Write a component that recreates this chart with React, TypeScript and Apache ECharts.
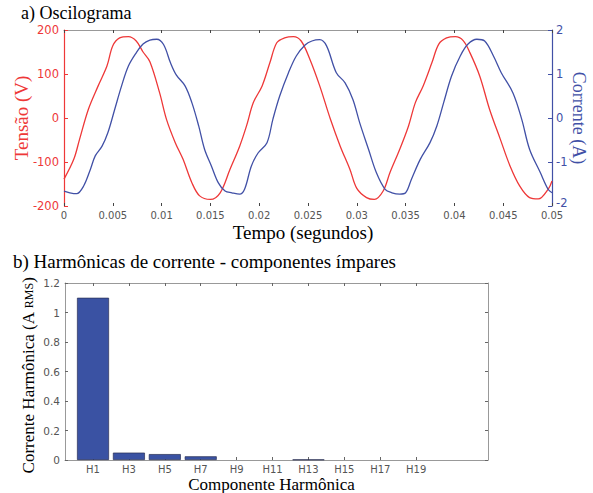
import React, { useEffect, useRef } from "react";
import * as echarts from "echarts";

// ---- a) Oscilograma ----
const timeV = [0, 0.001, 0.0016, 0.0025, 0.0035, 0.0044, 0.005, 0.0057, 0.0066, 0.0074, 0.0081, 0.0088, 0.0098, 0.0105, 0.0114, 0.0122, 0.0131, 0.0139, 0.015, 0.016, 0.017, 0.018, 0.0187, 0.0194, 0.0203, 0.0211, 0.0218, 0.0226, 0.0235, 0.0243, 0.0252, 0.0262, 0.0273, 0.0283, 0.0293, 0.03, 0.031, 0.0318, 0.0327, 0.0334, 0.0344, 0.0353, 0.036, 0.0368, 0.0377, 0.0384, 0.0392, 0.0401, 0.0409, 0.0416, 0.0426, 0.0436, 0.0447, 0.0457, 0.0467, 0.0477, 0.0486, 0.0496, 0.05];
const voltage = [-139, -94, -48, 20, 73, 118, 164, 182, 185, 175, 150, 128, 57, -3, -56, -94, -147, -177, -185, -170, -117, -64, -18, 35, 73, 126, 171, 182, 185, 175, 133, 73, -3, -64, -117, -160, -181, -185, -166, -124, -71, -18, 35, 73, 126, 168, 182, 185, 176, 148, 95, 20, -48, -109, -155, -181, -184, -162, -143];

const timeI = [0, 0.0006, 0.0013, 0.002, 0.0027, 0.0032, 0.0039, 0.0045, 0.0052, 0.0059, 0.0066, 0.0074, 0.0081, 0.0088, 0.0095, 0.0102, 0.0109, 0.0115, 0.0124, 0.0131, 0.0138, 0.0144, 0.0151, 0.0158, 0.0165, 0.0172, 0.018, 0.0185, 0.0192, 0.0199, 0.0208, 0.0214, 0.0221, 0.023, 0.0238, 0.0247, 0.0254, 0.0262, 0.0269, 0.0279, 0.0288, 0.0296, 0.0303, 0.0312, 0.032, 0.0329, 0.0336, 0.0344, 0.035, 0.0356, 0.0365, 0.0375, 0.0382, 0.0389, 0.0397, 0.0406, 0.0414, 0.0423, 0.0431, 0.044, 0.0448, 0.046, 0.0469, 0.0477, 0.0488, 0.0496, 0.05];
const current = [-1.66, -1.7, -1.72, -1.55, -1.17, -0.86, -0.64, -0.33, 0.2, 0.73, 1.18, 1.48, 1.68, 1.77, 1.79, 1.67, 1.26, 0.98, 0.73, 0.35, -0.18, -0.71, -1.09, -1.47, -1.66, -1.7, -1.73, -1.62, -1.09, -0.79, -0.56, -0.03, 0.5, 1.03, 1.41, 1.66, 1.75, 1.78, 1.64, 1.03, 0.8, 0.42, -0.11, -0.71, -1.24, -1.62, -1.7, -1.73, -1.7, -1.39, -0.94, -0.56, -0.18, 0.35, 0.95, 1.41, 1.68, 1.79, 1.75, 1.41, 1.03, 0.57, -0.03, -0.71, -1.24, -1.62, -1.7];

const voltTicks = [-200, 200, 100];
const currTicks = [-2, 2, 1];
const timeTicks = [0, 0.05, 0.005];

// ---- b) Harmônicas ----
const harmonicLabels = ["H1", "H3", "H5", "H7", "H9", "H11", "H13", "H15", "H17", "H19"];
const harmonicValues = [1.1, 0.05, 0.04, 0.025, 0, 0, 0.003, 0, 0, 0];
const harmTicks = [0, 1.2, 0.2];

const RED = "#ee3838";
const BLUE = "#4150a6";
const SERIF = "'Liberation Serif', 'Times New Roman', serif";
const SANS = "'DejaVu Sans', sans-serif";

export default function App() {
  const ref = useRef<HTMLDivElement>(null);
  useEffect(() => {
    document.body.style.margin = "0";
    const chart = echarts.init(ref.current!, null, { renderer: "svg" });
    const vData = timeV.map((t, i) => [t, voltage[i]]);
    const iData = timeI.map((t, i) => [t, current[i]]);
    const hPos = harmonicLabels.map((_, i) => i + 1);
    const barData = harmonicValues.map((v, i) => ({
      value: [hPos[i], v],
      itemStyle: { borderWidth: v > 0 ? 0.7 : 0 },
    }));
    const fmtT = (v: number) => String(+v.toFixed(3));

    chart.setOption({
      animation: false,
      title: [
        { text: "a) Oscilograma", left: 16, top: -1, textStyle: { fontFamily: SERIF, fontSize: 18, fontWeight: "normal", color: "#000" } },
        { text: "b) Harmônicas de corrente - componentes ímpares", left: 8, top: 247, textStyle: { fontFamily: SERIF, fontSize: 19, fontWeight: "normal", color: "#000" } },
      ],
      grid: [
        { left: 64, top: 30, width: 488, height: 176, outerBoundsMode: "none", containLabel: false },
        { left: 65, top: 283, width: 423, height: 177, outerBoundsMode: "none", containLabel: false },
      ],
      xAxis: [
        {
          gridIndex: 0, type: "value", min: timeTicks[0], max: timeTicks[1], interval: timeTicks[2],
          name: "Tempo (segundos)", nameLocation: "middle", nameGap: 17, nameMoveOverlap: false,
          nameTextStyle: { fontFamily: SERIF, fontSize: 19, color: "#000", padding: [0, 10, 0, 0] },
          axisLine: { show: false, onZero: false },
          axisTick: { inside: true, length: 3, lineStyle: { color: "#444" } },
          axisLabel: { formatter: fmtT, fontFamily: SANS, fontSize: 10, color: "#555", margin: 4 },
          splitLine: { show: false },
        },
        {
          gridIndex: 0, type: "value", position: "top", min: timeTicks[0], max: timeTicks[1], interval: timeTicks[2],
          axisLine: { show: true, onZero: false, lineStyle: { color: "#999", width: 1 } },
          axisTick: { inside: true, length: 3, lineStyle: { color: "#444" } },
          axisLabel: { show: false },
          splitLine: { show: false },
        },
        {
          gridIndex: 1, type: "value", min: 0.22, max: 12,
          name: "Componente Harmônica", nameLocation: "middle", nameGap: 16, nameMoveOverlap: false,
          nameTextStyle: { fontFamily: SERIF, fontSize: 17, color: "#000", padding: [0, 10, 0, 0] },
          axisLine: { show: true, onZero: false, lineStyle: { color: "#999", width: 1 } },
          axisTick: { inside: true, length: 3, customValues: hPos, lineStyle: { color: "#666" } },
          axisLabel: { customValues: hPos, formatter: (v: number) => harmonicLabels[Math.round(v) - 1] ?? "", fontFamily: SANS, fontSize: 10, color: "#555", margin: 4 },
          splitLine: { show: false },
        },
        {
          gridIndex: 1, type: "value", position: "top", min: 0.22, max: 12,
          axisLine: { show: true, onZero: false, lineStyle: { color: "#999", width: 1 } },
          axisTick: { inside: true, length: 3, customValues: hPos, lineStyle: { color: "#666" } },
          axisLabel: { show: false },
          splitLine: { show: false },
        },
      ],
      yAxis: [
        {
          gridIndex: 0, type: "value", position: "left", min: voltTicks[0], max: voltTicks[1], interval: voltTicks[2],
          name: "Tensão (V)", nameLocation: "middle", nameGap: 33, nameRotate: 90, nameMoveOverlap: false,
          nameTextStyle: { fontFamily: SERIF, fontSize: 19, color: RED },
          axisLine: { show: true, onZero: false, lineStyle: { color: RED, width: 1.2 } },
          axisTick: { show: true, inside: true, length: 4, lineStyle: { color: RED } },
          axisLabel: { fontFamily: SANS, fontSize: 11.5, color: RED, margin: 5 },
          splitLine: { show: false },
        },
        {
          gridIndex: 0, type: "value", position: "right", min: currTicks[0], max: currTicks[1], interval: currTicks[2],
          name: "Corrente (A)", nameLocation: "middle", nameGap: 18, nameRotate: -90, nameMoveOverlap: false,
          nameTextStyle: { fontFamily: SERIF, fontSize: 18, color: BLUE },
          axisLine: { show: true, onZero: false, lineStyle: { color: BLUE, width: 1.2 } },
          axisTick: { show: true, inside: true, length: 4, lineStyle: { color: BLUE } },
          axisLabel: {
            formatter: (v: number) => (v === currTicks[0] ? "{lo|" + v + "}" : String(v)),
            rich: { lo: { fontFamily: SANS, fontSize: 11.5, color: BLUE, padding: [0, 0, 7, 0] } },
            fontFamily: SANS, fontSize: 11.5, color: BLUE, margin: 4,
          },
          splitLine: { show: false },
        },
        {
          gridIndex: 1, type: "value", position: "left", min: harmTicks[0], max: harmTicks[1], interval: harmTicks[2],
          name: "Corrente Harmônica (A {s|RMS})", nameLocation: "middle", nameGap: 28, nameRotate: 90, nameMoveOverlap: false,
          nameTextStyle: { fontFamily: SERIF, fontSize: 17, color: "#000", padding: [0, 8, 0, 0], rich: { s: { fontFamily: SERIF, fontSize: 12, color: "#000" } } },
          axisLine: { show: true, onZero: false, lineStyle: { color: "#999", width: 1 } },
          axisTick: { show: true, inside: true, length: 3, lineStyle: { color: "#666" } },
          axisLabel: { formatter: (v: number) => String(+v.toFixed(1)), fontFamily: SANS, fontSize: 10.5, color: "#555", margin: 5 },
          splitLine: { show: false },
        },
        {
          gridIndex: 1, type: "value", position: "right", min: harmTicks[0], max: harmTicks[1], interval: harmTicks[2],
          axisLine: { show: true, onZero: false, lineStyle: { color: "#999", width: 1 } },
          axisTick: { show: true, inside: true, length: 3, lineStyle: { color: "#666" } },
          axisLabel: { show: false },
          splitLine: { show: false },
        },
      ],
      series: [
        {
          type: "line", xAxisIndex: 0, yAxisIndex: 0, data: vData, smooth: 0.35, showSymbol: false,
          lineStyle: { color: RED, width: 1.3 }, itemStyle: { color: RED },
        },
        {
          type: "line", xAxisIndex: 0, yAxisIndex: 1, data: iData, smooth: 0.35, showSymbol: false,
          lineStyle: { color: BLUE, width: 1.3 }, itemStyle: { color: BLUE },
        },
        {
          type: "bar", xAxisIndex: 2, yAxisIndex: 2, data: barData, barWidth: 32,
          itemStyle: { color: "#3a52a3", borderColor: "#2a2f55", borderWidth: 0.7 },
        },
      ],
    });
    return () => chart.dispose();
  }, []);
  return <div ref={ref} style={{ width: 593, height: 493 }} />;
}
